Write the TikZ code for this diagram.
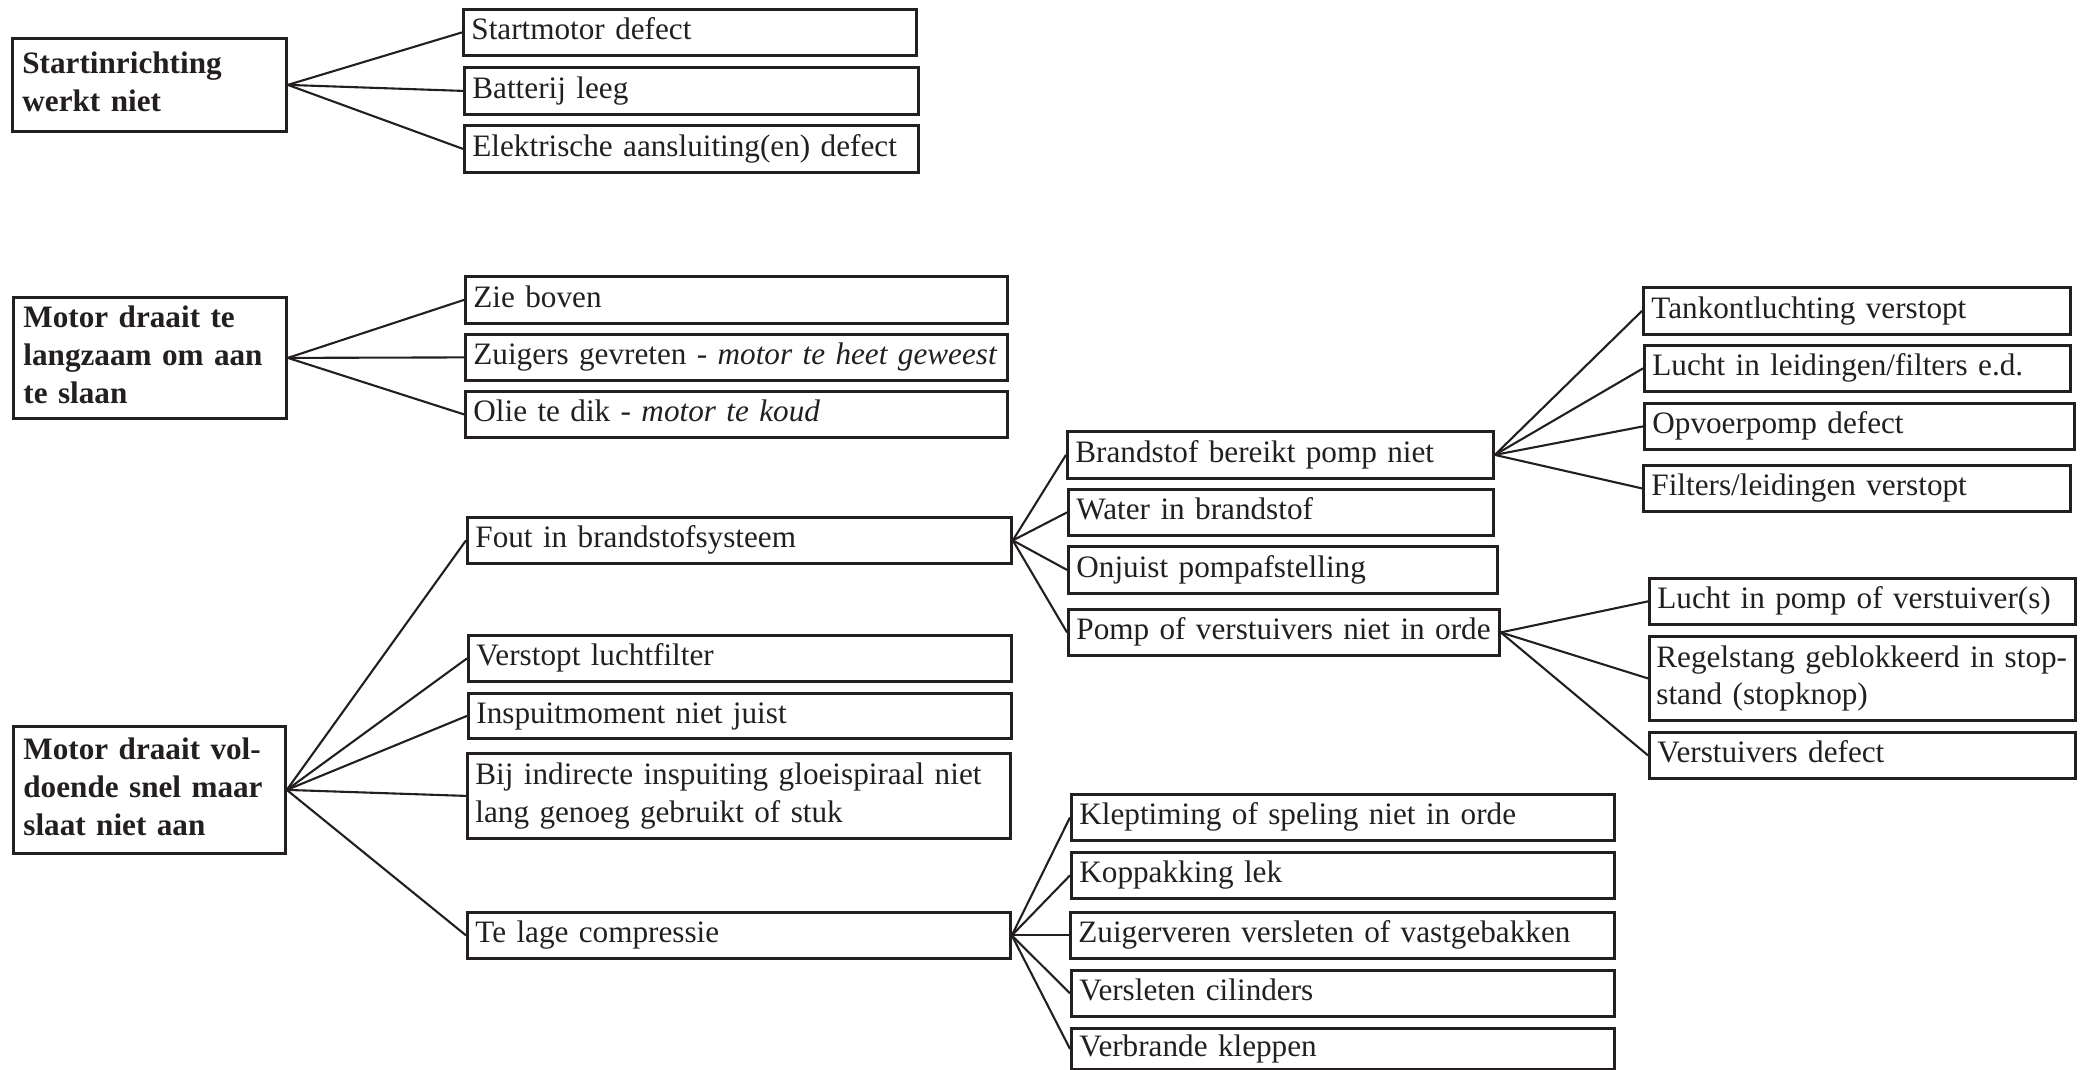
\documentclass[tikz,border=0pt]{standalone}
\usepackage{fontspec}
\setmainfont{Liberation Serif}
\definecolor{ink}{HTML}{231F20}
\newcommand\mybox[7][4]{%
  \pgfmathsetmacro\bxw{(#5-#3)*0.5}%
  \pgfmathsetmacro\bxh{(#6-#4)*0.5}%
  \pgfmathsetmacro\bxt{(#5-#3)*0.5-2*#1}%
  \node[box,inner xsep=#1pt,minimum width=\bxw pt,minimum height=\bxh pt,
        text width=\bxt pt,anchor=north west] (#2) at (#3,#4) {#7};}
\begin{document}
\begin{tikzpicture}[x=0.5pt,y=-0.5pt,
  box/.style={draw=ink,text=ink,line width=1.4pt,inner ysep=0pt,align=left,
    font=\fontsize{15.6}{18.8}\selectfont,
    execute at begin node=\strut,execute at end node=\strut},
  conn/.style={draw=ink,line width=1.05pt}]
\useasboundingbox (0,0) rectangle (2084,1070);
% group 1
\mybox[5]{p1}{11}{37}{285}{130}{\textbf{Startinrichting}\\\textbf{werkt niet}}
\mybox{c11}{462}{8}{915}{54}{Startmotor defect}
\mybox{c12}{463}{66}{917}{113}{Batterij leeg}
\mybox{c13}{463}{124}{917}{171}{Elektrische aansluiting(en) defect}
% group 2
\mybox[5]{p2}{12}{296}{285}{417}{\textbf{Motor draait te}\\\textbf{langzaam om aan}\\\textbf{te slaan}}
\mybox{c21}{464}{275}{1006}{322}{Zie boven}
\mybox{c22}{464}{333}{1006}{379}{Zuigers gevreten - \textit{motor te heet geweest}}
\mybox{c23}{464}{390}{1006}{436}{Olie te dik - \textit{motor te koud}}
% group 3
\mybox[5]{p3}{12}{725}{284}{852}{\textbf{Motor draait vol-}\\\textbf{doende snel maar}\\\textbf{slaat niet aan}}
\mybox{c31}{466}{516}{1010}{562}{Fout in brandstofsysteem}
\mybox{c32}{467}{634}{1010}{680}{Verstopt luchtfilter}
\mybox{c33}{467}{692}{1010}{737}{Inspuitmoment niet juist}
\mybox{c34}{466}{752}{1009}{837}{\mbox{Bij indirecte inspuiting gloeispiraal niet}\\lang genoeg gebruikt of stuk}
\mybox{c35}{466}{911}{1009}{957}{Te lage compressie}
% fuel system
\mybox{d1}{1066}{430}{1492}{477}{Brandstof bereikt pomp niet}
\mybox{d2}{1067}{488}{1492}{534}{Water in brandstof}
\mybox{d3}{1067}{545}{1496}{592}{Onjuist pompafstelling}
\mybox{d4}{1067}{608}{1498}{654}{\mbox{Pomp of verstuivers niet in orde}}
\mybox{e1}{1642}{286}{2069}{333}{Tankontluchting verstopt}
\mybox{e2}{1643}{344}{2069}{390}{\mbox{Lucht in leidingen/filters e.d.}}
\mybox{e3}{1643}{402}{2073}{448}{Opvoerpomp defect}
\mybox{e4}{1642}{464}{2069}{510}{Filters/leidingen verstopt}
\mybox{f1}{1648}{577}{2074}{623}{\mbox{Lucht in pomp of verstuiver(s)}}
\mybox[3.5]{f2}{1648}{635}{2074}{719}{\mbox{Regelstang geblokkeerd in stop-}\\stand (stopknop)}
\mybox{f3}{1648}{731}{2074}{777}{Verstuivers defect}
% compression
\mybox{g1}{1070}{793}{1613}{839}{Kleptiming of speling niet in orde}
\mybox{g2}{1070}{851}{1613}{897}{Koppakking lek}
\mybox{g3}{1069}{911}{1613}{957}{Zuigerveren versleten of vastgebakken}
\mybox{g4}{1070}{969}{1613}{1015}{Versleten cilinders}
\mybox{g5}{1070}{1027}{1613}{1068}{Verbrande kleppen}
% connectors
\foreach \c in {c11,c12,c13} \draw[conn] (p1.east) -- (\c.west);
\foreach \c in {c21,c22,c23} \draw[conn] (p2.east) -- (\c.west);
\foreach \c in {c31,c32,c33,c34,c35} \draw[conn] (p3.east) -- (\c.west);
\foreach \c in {d1,d2,d3,d4} \draw[conn] (c31.east) -- (\c.west);
\foreach \c in {e1,e2,e3,e4} \draw[conn] (d1.east) -- (\c.west);
\foreach \c in {f1,f2,f3} \draw[conn] (d4.east) -- (\c.west);
\foreach \c in {g1,g2,g3,g4,g5} \draw[conn] (c35.east) -- (\c.west);
\end{tikzpicture}
\end{document}
